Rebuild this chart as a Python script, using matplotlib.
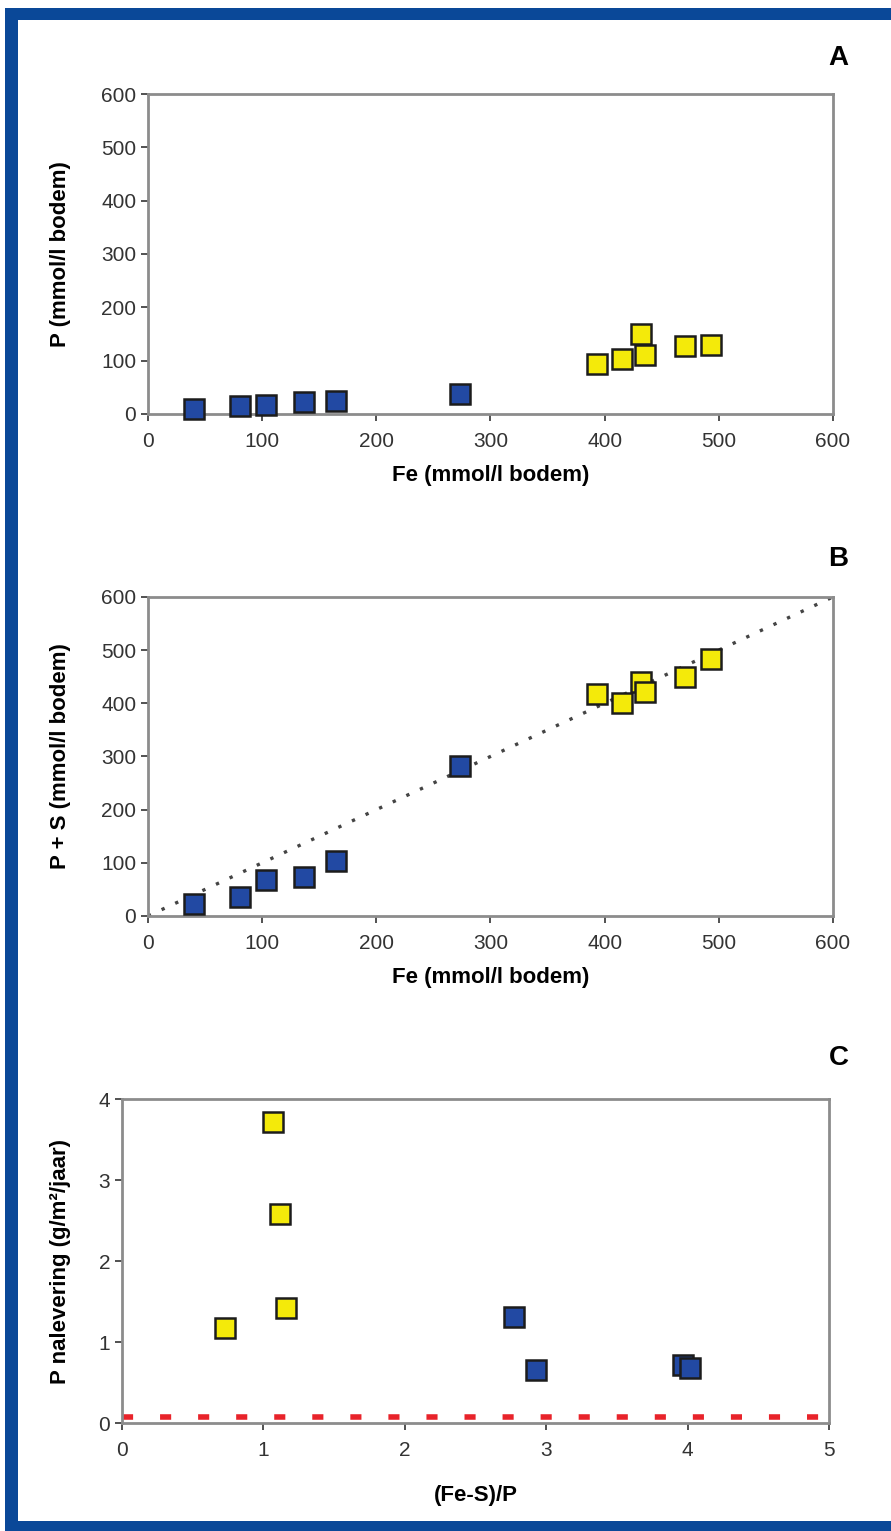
import matplotlib
matplotlib.use("Agg")
from matplotlib import pyplot as plt
from matplotlib.patches import Rectangle

plt.rcParams['font.family'] = ['Liberation Sans', 'DejaVu Sans']

# Panel A / B : Fe versus P and P+S (mmol/l bodem)
fe_blue = [40, 81, 103, 137, 165, 273]
p_blue = [10, 15, 17, 22, 25, 37]
ps_blue = [22, 35, 67, 73, 103, 283]

fe_yellow = [393, 415, 432, 435, 470, 493]
p_yellow = [93, 103, 150, 110, 128, 130]
ps_yellow = [418, 400, 440, 422, 450, 484]

# Panel C : (Fe-S)/P versus P nalevering
ratio_yellow = [0.73, 1.07, 1.12, 1.16]
rel_yellow = [1.17, 3.72, 2.58, 1.42]
ratio_blue = [2.77, 2.93, 3.97, 4.02]
rel_blue = [1.31, 0.66, 0.72, 0.68]

norm_line = [0.07, 0.07]
norm_x = [0, 5]

ticks_fe = [0, 100, 200, 300, 400, 500, 600]
ticks_c_x = [0, 1, 2, 3, 4, 5]
ticks_c_y = [0, 1, 2, 3, 4]

BLUE = '#2249a3'
YELLOW = '#f4ea0a'
EDGE = '#1c1c1c'
FRAME = '#8c8c8c'
BORDER = '#0a4898'
MS = 14


def style_axes(ax):
    for sp in ax.spines.values():
        sp.set_color(FRAME)
        sp.set_linewidth(2)
    ax.tick_params(colors='#333333', labelsize=15, length=5, width=1.2,
                   direction='out')
    ax.tick_params(axis='x', pad=8)
    for t in ax.get_xticklines() + ax.get_yticklines():
        t.set_color(FRAME)


def squares(ax, x, y, color):
    ax.plot(x, y, linestyle='none', marker='s', markersize=MS,
            markerfacecolor=color, markeredgecolor=EDGE, markeredgewidth=1.8,
            clip_on=False, zorder=5)


def band(x0, y0, x1, y1):
    # pixel box (top-left origin) -> figure fraction rectangle
    W, H = 891.0, 1531.0
    fig.patches.append(Rectangle((x0 / W, 1 - y1 / H), (x1 - x0) / W,
                                 (y1 - y0) / H, transform=fig.transFigure,
                                 facecolor=BORDER, edgecolor='none', zorder=0))


fig = plt.figure(figsize=(8.91, 15.31), dpi=100)
fig.patch.set_facecolor('white')

# blue frame: top, left, bottom (open on the right)
band(5, 8, 891, 20)
band(5, 8, 18, 1531)
band(5, 1521, 891, 1531)

# --- A ---
axA = fig.add_axes([0.1661, 0.7296, 0.7688, 0.2090])
squares(axA, fe_blue, p_blue, BLUE)
squares(axA, fe_yellow, p_yellow, YELLOW)
axA.set_xlim(0, 600)
axA.set_ylim(0, 600)
axA.set_xticks(ticks_fe)
axA.set_yticks(ticks_fe)
axA.set_xlabel('Fe (mmol/l bodem)', fontsize=16, fontweight='bold', labelpad=10)
axA.set_ylabel('P (mmol/l bodem)', fontsize=16, fontweight='bold', labelpad=22)
style_axes(axA)
fig.text(0.941, 0.962, 'A', fontsize=20, fontweight='bold', ha='center', va='center')

# --- B ---
axB = fig.add_axes([0.1661, 0.4017, 0.7688, 0.2084])
axB.plot([0, 600], [0, 600], linestyle=(0, (1, 3.5)), color='#444444',
         linewidth=2.4)
squares(axB, fe_blue, ps_blue, BLUE)
squares(axB, fe_yellow, ps_yellow, YELLOW)
axB.set_xlim(0, 600)
axB.set_ylim(0, 600)
axB.set_xticks(ticks_fe)
axB.set_yticks(ticks_fe)
axB.set_xlabel('Fe (mmol/l bodem)', fontsize=16, fontweight='bold', labelpad=10)
axB.set_ylabel('P + S (mmol/l bodem)', fontsize=16, fontweight='bold', labelpad=22)
style_axes(axB)
fig.text(0.941, 0.635, 'B', fontsize=20, fontweight='bold', ha='center', va='center')

# --- C ---
axC = fig.add_axes([0.1369, 0.0705, 0.7935, 0.2116])
axC.plot(norm_x, norm_line, color='#e8232a', linewidth=4,
         linestyle=(0, (2.0, 4.85)), solid_capstyle='butt')
squares(axC, ratio_yellow, rel_yellow, YELLOW)
squares(axC, ratio_blue, rel_blue, BLUE)
axC.set_xlim(0, 5)
axC.set_ylim(0, 4)
axC.set_xticks(ticks_c_x)
axC.set_yticks(ticks_c_y)
axC.set_xlabel('(Fe-S)/P', fontsize=16, fontweight='bold', labelpad=18)
axC.set_ylabel('P nalevering (g/m²/jaar)', fontsize=16, fontweight='bold',
               labelpad=20)
style_axes(axC)
fig.text(0.941, 0.309, 'C', fontsize=20, fontweight='bold', ha='center', va='center')

fig.savefig('out.png', dpi=100)
